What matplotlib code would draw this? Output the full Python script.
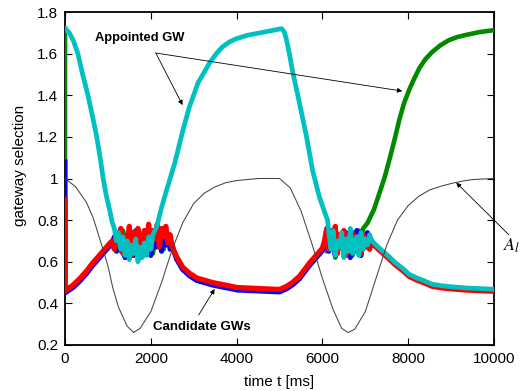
import matplotlib
matplotlib.use("Agg")
import matplotlib.pyplot as plt
import numpy as np

plt.rcParams['font.family'] = ['Liberation Sans', 'DejaVu Sans']
plt.rcParams['mathtext.fontset'] = 'stix'

# ---- data ----
# black A_l curve
t_al = [0, 250, 500, 650, 750, 900, 1000, 1120, 1250, 1450, 1600, 1750, 2000,
        2250, 2500, 2750, 3000, 3250, 3500, 3750, 4000, 4500, 5000, 5250,
        5500, 5750, 6000, 6250, 6450, 6600, 6750, 7000, 7250, 7500, 7750,
        8000, 8250, 8500, 8750, 9000, 9250, 9500, 10000]
al = [1.0, 0.96, 0.885, 0.815, 0.75, 0.65, 0.58, 0.47, 0.38, 0.29, 0.26, 0.28,
      0.36, 0.50, 0.66, 0.79, 0.88, 0.93, 0.96, 0.98, 0.99, 1.0, 1.0, 0.955,
      0.845, 0.69, 0.52, 0.37, 0.28, 0.26, 0.275, 0.36, 0.52, 0.68, 0.80,
      0.87, 0.915, 0.945, 0.962, 0.976, 0.987, 0.995, 1.0]

# common time grids of the candidate bands
t_rise1 = [200, 350, 500, 650, 800, 1050]
t_noise1 = np.arange(1100, 2550, 50)
t_fall1 = [2600, 2740, 2900, 3070, 3440, 4020, 4650, 5000, 5150, 5300, 5465,
           5700, 6000]
t_noise2 = np.arange(6050, 7200, 50)
t_fall2 = [7200, 7330, 7560, 7700, 7860, 8020, 8200, 8330, 8560, 8800, 9000,
           9350, 10000]

# red GW
red_start = [0.9, 0.46]
red_r1 = [0.49, 0.52, 0.555, 0.595, 0.63, 0.69]
red_n1 = [0.70, 0.66, 0.74, 0.68, 0.76, 0.64, 0.72, 0.69, 0.77, 0.63, 0.74,
          0.67, 0.76, 0.70, 0.65, 0.75, 0.68, 0.78, 0.66, 0.75, 0.71, 0.78,
          0.67, 0.76, 0.72, 0.77, 0.69, 0.73, 0.67]
red_f1 = [0.625, 0.575, 0.545, 0.522, 0.50, 0.476, 0.47, 0.467, 0.48, 0.50,
          0.53, 0.594, 0.665]
red_n2 = [0.70, 0.76, 0.66, 0.74, 0.69, 0.77, 0.64, 0.73, 0.68, 0.75, 0.63,
          0.71, 0.67, 0.74, 0.65, 0.72, 0.69, 0.64, 0.73, 0.67, 0.71, 0.66, 0.70]
red_f2 = [0.68, 0.655, 0.613, 0.585, 0.56, 0.53, 0.512, 0.502, 0.482, 0.474,
          0.47, 0.464, 0.458]

# blue GW
blue_start = [1.08, 0.45]
blue_r1 = [0.478, 0.508, 0.543, 0.583, 0.618, 0.678]
blue_n1 = [0.69, 0.72, 0.65, 0.74, 0.67, 0.70, 0.62, 0.73, 0.66, 0.71, 0.63,
           0.75, 0.68, 0.62, 0.72, 0.66, 0.74, 0.69, 0.63, 0.71, 0.67, 0.73,
           0.70, 0.65, 0.74, 0.68, 0.72, 0.66, 0.68]
blue_f1 = [0.613, 0.563, 0.533, 0.51, 0.488, 0.464, 0.458, 0.455, 0.468,
           0.488, 0.518, 0.582, 0.653]
blue_n2 = [0.68, 0.72, 0.65, 0.75, 0.70, 0.63, 0.73, 0.67, 0.71, 0.64, 0.74,
           0.69, 0.62, 0.72, 0.66, 0.75, 0.68, 0.63, 0.71, 0.67, 0.74, 0.69, 0.68]
blue_f2 = [0.685, 0.66, 0.618, 0.59, 0.565, 0.535, 0.517, 0.507, 0.487,
           0.479, 0.475, 0.469, 0.463]

# green GW (candidate first, appointed after ~7000 ms)
green_start = [1.72, 0.455]
green_r1 = [0.485, 0.514, 0.55, 0.59, 0.624, 0.685]
green_n1 = [0.68, 0.71, 0.66, 0.73, 0.65, 0.75, 0.68, 0.62, 0.72, 0.67, 0.74,
            0.64, 0.70, 0.73, 0.63, 0.71, 0.66, 0.75, 0.69, 0.64, 0.73, 0.67,
            0.76, 0.70, 0.66, 0.74, 0.71, 0.68, 0.66]
green_f1 = [0.619, 0.569, 0.539, 0.516, 0.494, 0.47, 0.464, 0.461, 0.474,
            0.494, 0.524, 0.588, 0.659]
t_green_n2 = np.arange(6050, 7000, 50)
green_n2 = [0.69, 0.65, 0.73, 0.67, 0.75, 0.62, 0.71, 0.68, 0.74, 0.64, 0.72,
            0.66, 0.70, 0.63, 0.73, 0.69, 0.75, 0.71, 0.76]
t_green_up = [7050, 7200, 7330, 7450, 7560, 7680, 7790, 7900, 8020, 8140, 8260,
              8400, 8560, 8750, 8950, 9150, 9350, 9650, 10000]
green_up = [0.786, 0.85, 0.93, 1.005, 1.089, 1.185, 1.28, 1.36, 1.425, 1.48,
            1.53, 1.573, 1.608, 1.64, 1.665, 1.68, 1.69, 1.703, 1.713]

# cyan GW (appointed first, candidate after ~7000 ms)
t_cyan_a = [0, 100, 200, 300, 400, 535, 640, 740, 820, 890, 960, 1050, 1100]
cyan_a = [1.72, 1.70, 1.66, 1.60, 1.51, 1.40, 1.30, 1.20, 1.10, 1.00, 0.92,
          0.84, 0.79]
t_cyan_n1 = np.arange(1150, 2100, 50)
cyan_n1 = [0.76, 0.70, 0.74, 0.66, 0.72, 0.63, 0.70, 0.61, 0.68, 0.64, 0.71,
           0.60, 0.67, 0.62, 0.69, 0.63, 0.72, 0.66, 0.73]
t_cyan_b = [2140, 2250, 2370, 2450, 2560, 2650, 2750, 2900, 3100, 3370, 3520,
            3670, 3830, 4000, 4250, 4500, 4750, 4950, 5050, 5110, 5160, 5230,
            5300, 5465, 5630, 5770, 5930, 6050, 6120]
cyan_b = [0.77, 0.86, 0.945, 1.00, 1.075, 1.15, 1.233, 1.344, 1.459, 1.555,
          1.598, 1.632, 1.656, 1.672, 1.688, 1.698, 1.708, 1.716, 1.72, 1.705,
          1.67, 1.60, 1.52, 1.363, 1.20, 1.04, 0.911, 0.84, 0.80]
t_cyan_n2 = np.arange(6150, 7200, 50)
cyan_n2 = [0.74, 0.66, 0.75, 0.63, 0.70, 0.67, 0.74, 0.62, 0.71, 0.65, 0.76,
           0.64, 0.69, 0.72, 0.63, 0.74, 0.66, 0.71, 0.68, 0.73, 0.70]
cyan_f2 = [0.69, 0.665, 0.623, 0.595, 0.57, 0.54, 0.522, 0.512, 0.492, 0.484,
           0.48, 0.474, 0.468]


def cand(start, r1, n1, f1, n2, f2):
    t = [0, 0] + t_rise1 + list(t_noise1) + t_fall1 + list(t_noise2) + t_fall2
    y = start + r1 + n1 + f1 + n2 + f2
    return t, y


fig = plt.figure(figsize=(5.22, 3.91), dpi=100)
ax = fig.add_axes([65 / 522, 1 - 345 / 391, 429 / 522, 333 / 391])

t_g = [0, 0] + t_rise1 + list(t_noise1) + t_fall1 + list(t_green_n2) + t_green_up
y_g = green_start + green_r1 + green_n1 + green_f1 + green_n2 + green_up
ax.plot(t_g, y_g, color='#008a00', lw=3.3, zorder=3)

t_b, y_b = cand(blue_start, blue_r1, blue_n1, blue_f1, blue_n2, blue_f2)
ax.plot(t_b, y_b, color='#0000ff', lw=3.6, zorder=3)

t_r, y_r = cand(red_start, red_r1, red_n1, red_f1, red_n2, red_f2)
ax.plot(t_r, y_r, color='#ff0000', lw=3.8, zorder=3)

t_c = t_cyan_a + list(t_cyan_n1) + t_cyan_b + list(t_cyan_n2) + t_fall2
y_c = cyan_a + cyan_n1 + cyan_b + cyan_n2 + cyan_f2
ax.plot(t_c, y_c, color='#00c0c0', lw=3.4, zorder=3)

ax.plot(t_al, al, color='#444444', lw=0.75, zorder=4)

ax.set_xlim(0, 10000)
ax.set_ylim(0.2, 1.8)
ax.set_xticks([0, 2000, 4000, 6000, 8000, 10000])
ax.set_yticks([0.2, 0.4, 0.6, 0.8, 1.0, 1.2, 1.4, 1.6, 1.8])
ax.set_yticklabels(['0.2', '0.4', '0.6', '0.8', '1', '1.2', '1.4', '1.6', '1.8'])
ax.tick_params(direction='in', length=5, width=0.8, top=True, right=True,
               labelsize=11, pad=5)
for s in ax.spines.values():
    s.set_linewidth(1.3)

ax.set_xlabel('time t [ms]', fontsize=11)
ax.xaxis.set_label_coords(0.5, -0.09)
ax.set_ylabel('gateway selection', fontsize=11)
ax.yaxis.set_label_coords(-0.089, 0.54)

arrow = dict(arrowstyle='-|>', lw=0.6, color='k', mutation_scale=7,
             shrinkA=0, shrinkB=0)
ax.text(1744, 1.675, 'Appointed GW', fontsize=9.3, fontweight='bold',
        ha='center', va='center')
ax.annotate('', xy=(2740, 1.353), xytext=(2116, 1.603), arrowprops=arrow)
ax.annotate('', xy=(7860, 1.42), xytext=(2116, 1.603), arrowprops=arrow)

ax.text(3186, 0.286, 'Candidate GWs', fontsize=9.5, fontweight='bold',
        ha='center', va='center')
ax.annotate('', xy=(3488, 0.469), xytext=(3116, 0.344), arrowprops=arrow)

ax.annotate('', xy=(9120, 0.98), xytext=(10349, 0.729), arrowprops=arrow,
            annotation_clip=False)
ax.text(10215, 0.676, '$A_l$', fontsize=13, ha='left', va='center',
        clip_on=False)

fig.savefig('out.png', dpi=100)
